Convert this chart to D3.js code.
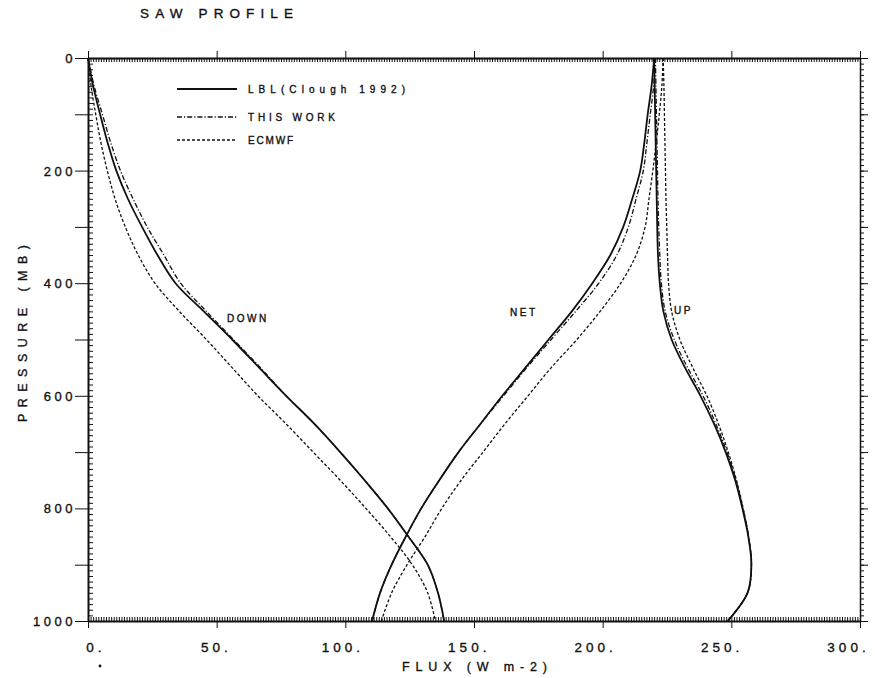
<!DOCTYPE html>
<html><head><meta charset="utf-8">
<script src="https://cdn.jsdelivr.net/npm/d3@7"></script>
<style>
body{margin:0;background:#fff;}
text{font-family:"Liberation Sans",Arial,sans-serif;fill:#111;stroke:#111;stroke-width:0.35;}
</style></head>
<body>
<svg id="c" width="875" height="678"></svg>
<script>
// ---- data ----
const pressure = [0,50,100,150,200,250,300,350,400,450,500,550,600,650,700,750,800,850,900,950,1000];
const lblDown  = [0,2.0,4.7,7.6,11,15.5,21,27,34,45,56,66.5,77,88,98,107.5,116.5,124.5,132,136,138.4];
const thisDown = [0,2.4,5.6,8.8,12.6,17.5,23,29.5,36,46,56.5,67,77,88,98,107.5,116.5,124.5,132,136,138.4];
const ecmDown  = [0,1.2,3,5,7.5,10.5,14.5,19.5,26,35.5,46,56,66,77,87.5,98,108,117.5,126,132,135];
const lblNet   = [220,219,217.5,216.2,214.6,211.5,208,203,196,188,179,170,161,152.5,144,136.5,129.5,123.5,118,113.5,110.4];
const thisNet  = [220.5,219.8,218.5,217.2,215.8,213,210,205.5,198.5,189.5,180,170.5,161.5,152.5,144,136.5,129.5,123.5,118,113.5,110.4];
const ecmNet   = [223.5,223,222,220.8,219.5,218,216.5,213,207,199,190,180,171,162,153.5,145,137.5,131,124,118,114];
const lblUp    = [220,220.2,220.4,220.6,220.8,221,221.2,221.5,222.2,223.6,226.8,232,238,243.3,247.8,251.5,254.3,256.6,257.8,256.3,248.6];
const thisUp   = [220.5,220.7,220.9,221.1,221.3,221.5,221.8,222.2,222.8,224.3,227.8,233,239,244,248.3,251.8,254.5,256.7,257.8,256.3,248.6];
const ecmUp    = [223.5,223.8,224,224.2,224.4,224.6,224.9,225.2,225.6,226.8,230,235,240.5,245,248.8,252,254.6,256.7,257.8,256.3,248.6];
const xTicks = [0,50,100,150,200,250,300];
const yTicks = [0,200,400,600,800,1000];
const legendNames = ["LBL(Clough 1992)","THIS WORK","ECMWF"];

// ---- layout ----
const svg = d3.select("#c");
const L=88, R=860, T=58, B=621;
const x = d3.scaleLinear().domain([0,300]).range([L,R]);
const y = d3.scaleLinear().domain([0,1000]).range([T,B]);

const styles = {
  lbl:  {dash:null, w:1.8},
  this: {dash:"5,2,1.2,2", w:1.3},
  ecm:  {dash:"3,2", w:1.3}
};

function ax(gen, tf){
  const g = svg.append("g").attr("transform",tf).call(gen);
  g.selectAll("line,path").attr("stroke","#111");
  g.selectAll("text").remove();
  return g;
}
// top
ax(d3.axisTop(x).tickValues(d3.range(0,301,1)).tickSize(-4).tickSizeOuter(0),`translate(0,${T})`).select(".domain").attr("stroke-width",2);
ax(d3.axisTop(x).tickValues(xTicks).tickSize(7).tickSizeOuter(0),`translate(0,${T})`).select(".domain").remove();
// bottom
ax(d3.axisBottom(x).tickValues(d3.range(0,301,1)).tickSize(-4).tickSizeOuter(0),`translate(0,${B})`).select(".domain").attr("stroke-width",2);
ax(d3.axisBottom(x).tickValues(xTicks).tickSize(7).tickSizeOuter(0),`translate(0,${B})`).select(".domain").remove();
// left
ax(d3.axisLeft(y).tickValues(d3.range(0,1001,10)).tickSize(-5).tickSizeOuter(0),`translate(${L},0)`).select(".domain").attr("stroke-width",2);
ax(d3.axisLeft(y).tickValues(d3.range(0,1001,100)).tickSize(13).tickSizeOuter(0),`translate(${L},0)`).select(".domain").remove();
// right
ax(d3.axisRight(y).tickValues(d3.range(0,1001,10)).tickSize(4).tickSizeOuter(0),`translate(${R},0)`).select(".domain").attr("stroke-width",1.5);
ax(d3.axisRight(y).tickValues(d3.range(0,1001,100)).tickSize(8).tickSizeOuter(0),`translate(${R},0)`).select(".domain").remove();
svg.selectAll(".tick line").attr("stroke-width",1);

// tick labels
svg.append("g").selectAll("text").data(xTicks).join("text")
  .attr("x",d=>x(d) + (d===0 ? 8 : 2 - d*0.045)).attr("y",652)
  .attr("text-anchor","middle").attr("font-size",13.5).attr("letter-spacing",4)
  .text(d=>d+".");
svg.append("g").selectAll("text").data(yTicks).join("text")
  .attr("x",76).attr("y",d=>y(d)+5)
  .attr("text-anchor","end").attr("font-size",13).attr("letter-spacing",3.5)
  .text(d=>d);

// titles
svg.append("text").attr("x",140).attr("y",18).attr("font-size",13.5)
  .attr("textLength",153).attr("lengthAdjust","spacing").text("SAW PROFILE");
svg.append("text").attr("x",402).attr("y",671).attr("font-size",12.5)
  .attr("textLength",145).attr("lengthAdjust","spacing").text("FLUX (W m-2)");
svg.append("text").attr("transform","translate(27,422) rotate(-90)").attr("font-size",12.5)
  .attr("textLength",177).attr("lengthAdjust","spacing").text("PRESSURE (MB)");
svg.append("circle").attr("cx",100).attr("cy",666).attr("r",1.4).attr("fill","#111");

// curves
const line = d3.line().x(d=>x(d[0])).y(d=>y(d[1])).curve(d3.curveCatmullRom.alpha(0.5));
const series = [
  [lblDown,"lbl"],[thisDown,"this"],[ecmDown,"ecm"],
  [lblNet,"lbl"],[thisNet,"this"],[ecmNet,"ecm"],
  [lblUp,"lbl"],[thisUp,"this"],[ecmUp,"ecm"]
];
series.forEach(([vals,k])=>{
  svg.append("path").datum(vals.map((v,i)=>[v,pressure[i]]))
    .attr("d",line).attr("fill","none").attr("stroke","#111")
    .attr("stroke-width",styles[k].w).attr("stroke-dasharray",styles[k].dash);
});

// curve labels
svg.append("text").attr("x",227).attr("y",322).attr("font-size",10).attr("letter-spacing",2.5).text("DOWN");
svg.append("text").attr("x",510).attr("y",316).attr("font-size",10).attr("letter-spacing",2.5).text("NET");
svg.append("text").attr("x",674).attr("y",314).attr("font-size",10).attr("letter-spacing",2.5).text("UP");

// legend
const legY=[89,117,140], keys=["lbl","this","ecm"], legW=[157,87,45];
legendNames.forEach((n,i)=>{
  svg.append("line").attr("x1",177).attr("x2",237).attr("y1",legY[i]).attr("y2",legY[i])
    .attr("stroke","#111").attr("stroke-width",styles[keys[i]].w).attr("stroke-dasharray",styles[keys[i]].dash);
  svg.append("text").attr("x",248).attr("y",legY[i]+4).attr("font-size",10)
    .attr("textLength",legW[i]).attr("lengthAdjust","spacing").text(n);
});
</script>
</body></html>
